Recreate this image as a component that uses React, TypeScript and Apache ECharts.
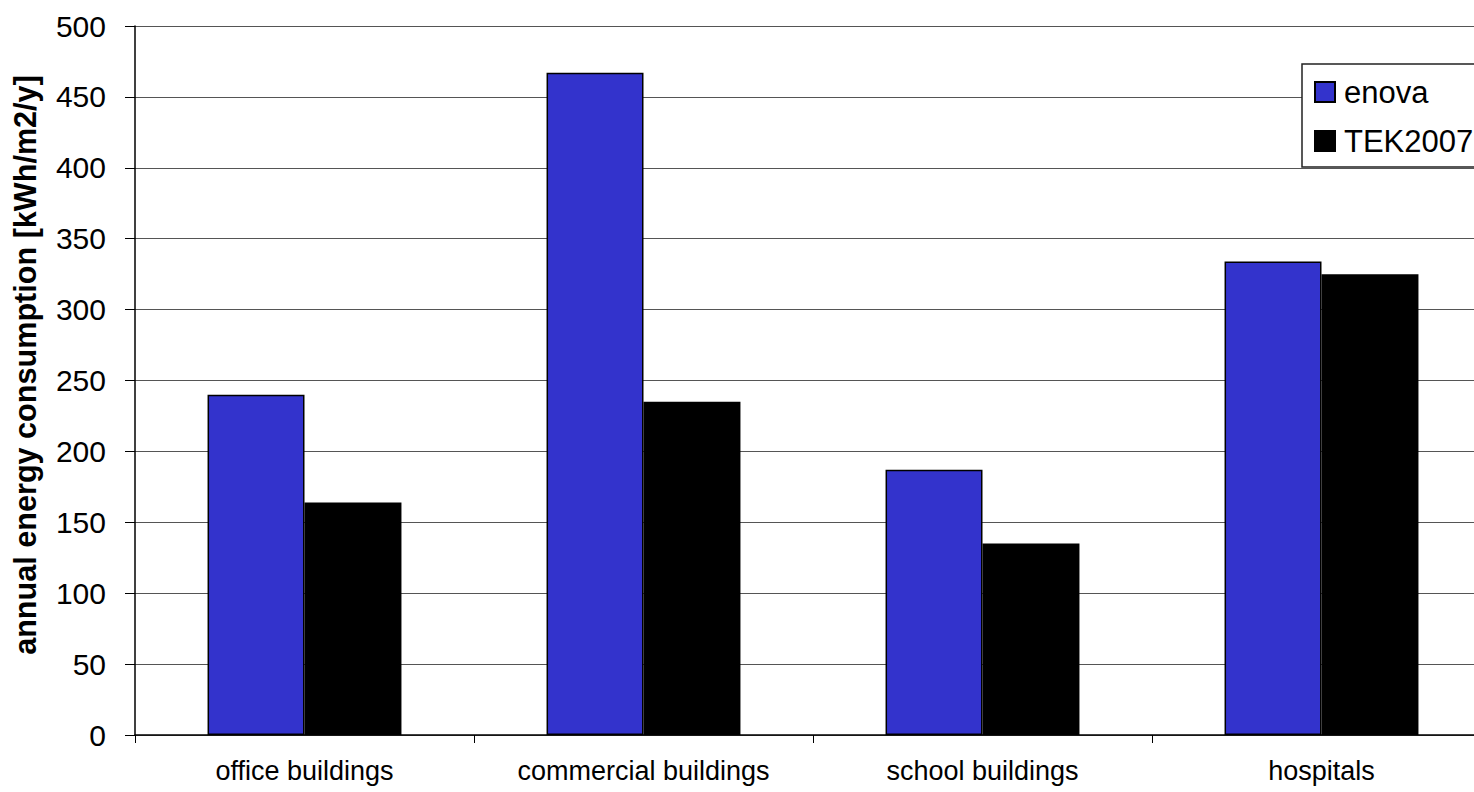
import React, { useEffect, useRef } from "react";
import * as echarts from "echarts";

// Building types along the x axis
const categories = ["office buildings", "commercial buildings", "school buildings", "hospitals"];
// Annual energy consumption in kWh/m2/y
const enovaValues = [240, 467, 187, 334];
const tek2007Values = [164, 235, 135, 325];
// Value axis range
const yMin = 0;
const yMax = 500;
const yStep = 50;

const FONT = '"Liberation Sans", Arial, sans-serif';

// The canvas runs a little past the window's right edge, so the last
// category and the legend box are cut off there.
const CHART_WIDTH = 1500;
const CHART_HEIGHT = 792;

export default function App() {
  const ref = useRef<HTMLDivElement>(null);

  useEffect(() => {
    if (!ref.current) return;
    const chart = echarts.init(ref.current, null, { renderer: "svg" });
    chart.setOption({
      animation: false,
      backgroundColor: "#ffffff",
      textStyle: { fontFamily: FONT },
      grid: { left: 135, top: 26, bottom: 57, right: CHART_WIDTH - 1491, containLabel: false },
      legend: {
        orient: "vertical",
        left: 1302,
        top: 64,
        icon: "rect",
        itemWidth: 20,
        itemHeight: 20,
        itemGap: 17,
        padding: [12, 80, 10, 12],
        backgroundColor: "#ffffff",
        borderColor: "#222222",
        borderWidth: 1.5,
        textStyle: { fontSize: 31, fontFamily: FONT, color: "#000", lineHeight: 32, padding: [0, 0, 0, 4] },
        data: ["enova", "TEK2007"],
      },
      xAxis: {
        type: "category",
        data: categories,
        axisLine: { lineStyle: { color: "#000", width: 1.5 } },
        axisTick: { show: true, length: 8, lineStyle: { color: "#000" } },
        axisLabel: { fontSize: 27, color: "#000", margin: 22, fontFamily: FONT },
      },
      yAxis: {
        type: "value",
        min: yMin,
        max: yMax,
        interval: yStep,
        axisLine: { show: true, lineStyle: { color: "#000", width: 1.5 } },
        axisTick: { show: true, length: 10, lineStyle: { color: "#000" } },
        axisLabel: { fontSize: 30, color: "#000", margin: 29, fontFamily: FONT },
        splitLine: { show: true, lineStyle: { color: "#555555", width: 1 } },
      },
      graphic: [
        {
          type: "text",
          x: 25,
          y: 365,
          rotation: Math.PI / 2,
          style: {
            text: "annual energy consumption [kWh/m2/y]",
            fontSize: 30.6,
            fontWeight: "bold",
            fontFamily: FONT,
            fill: "#000",
            align: "center",
            verticalAlign: "middle",
          },
        },
      ],
      series: [
        {
          name: "enova",
          type: "bar",
          data: enovaValues,
          barGap: "0%",
          barCategoryGap: "42.8%",
          itemStyle: { color: "#3333cc", borderColor: "#000", borderWidth: 1.5 },
        },
        {
          name: "TEK2007",
          type: "bar",
          data: tek2007Values,
          barGap: "0%",
          barCategoryGap: "42.8%",
          itemStyle: { color: "#000000", borderColor: "#000", borderWidth: 1.5 },
        },
      ],
    });
    return () => chart.dispose();
  }, []);

  return (
    <div
      ref={ref}
      style={{ position: "fixed", left: 0, top: 0, width: CHART_WIDTH, height: CHART_HEIGHT, background: "#fff" }}
    />
  );
}
